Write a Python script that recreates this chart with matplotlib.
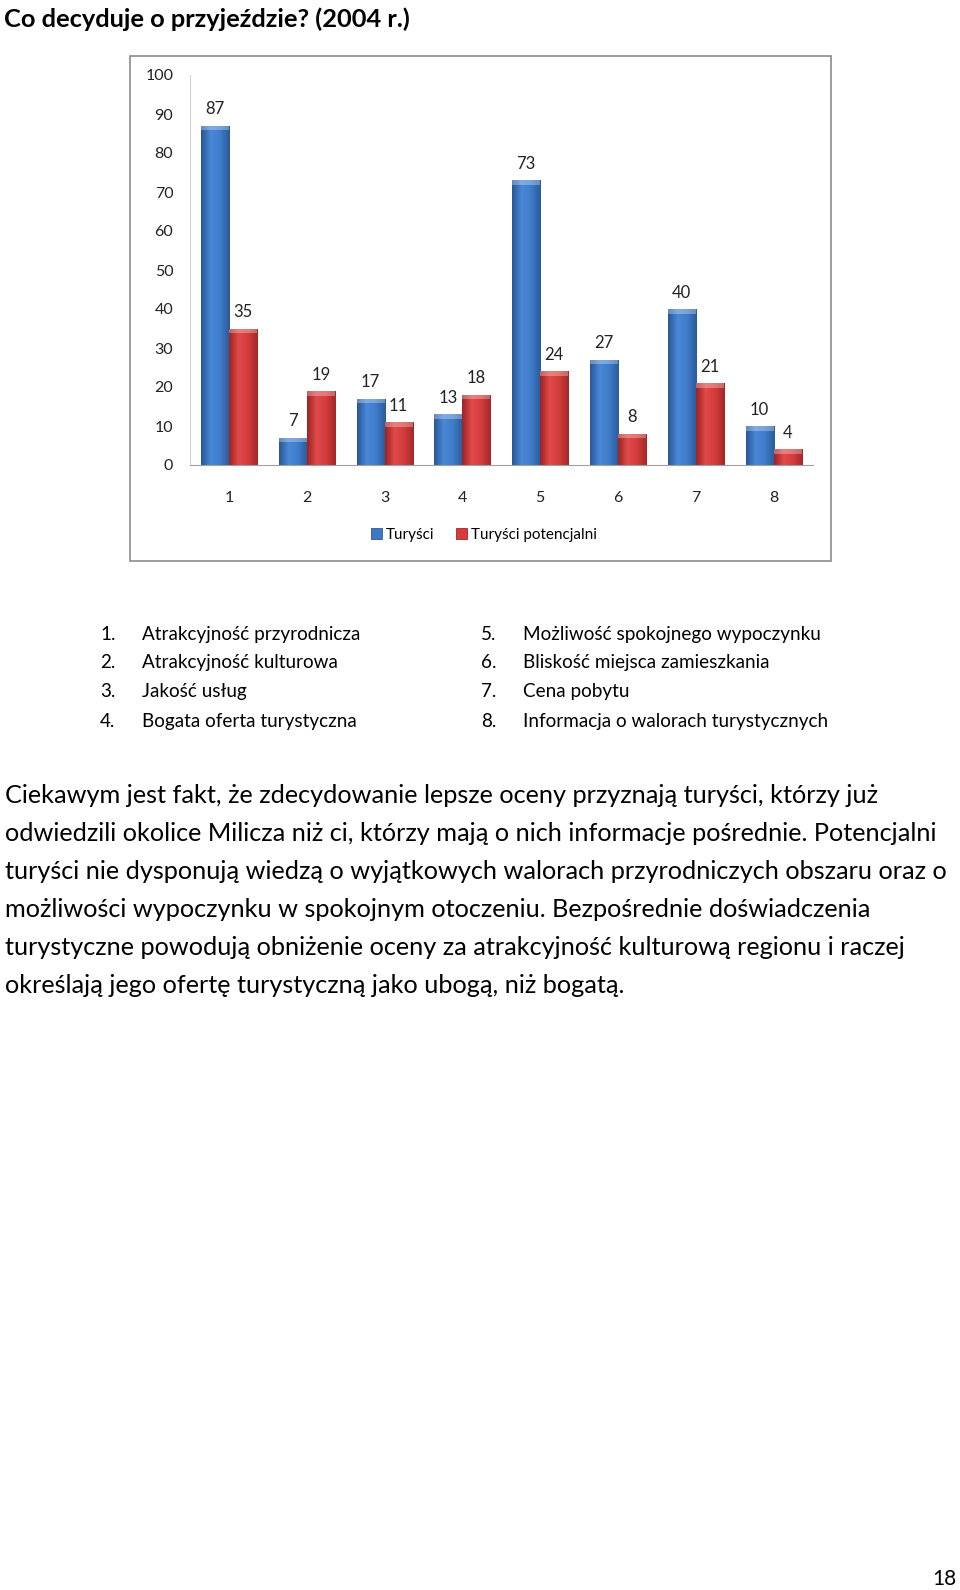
import numpy as np
import matplotlib.pyplot as plt
from matplotlib.colors import LinearSegmentedColormap
from matplotlib.patches import Rectangle

# Dane
kategorie = [1, 2, 3, 4, 5, 6, 7, 8]
turysci = [87, 7, 17, 13, 73, 27, 40, 10]
potencjalni = [35, 19, 11, 18, 24, 8, 21, 4]
seria_nazwy = ['Turyści', 'Turyści potencjalni']

tytul = 'Co decyduje o przyjeździe? (2004 r.)'
lista_lewa = ['Atrakcyjność przyrodnicza', 'Atrakcyjność kulturowa',
              'Jakość usług', 'Bogata oferta turystyczna']
lista_prawa = ['Możliwość spokojnego wypoczynku', 'Bliskość miejsca zamieszkania',
               'Cena pobytu', 'Informacja o walorach turystycznych']
akapit = [
    'Ciekawym jest fakt, że zdecydowanie lepsze oceny przyznają turyści, którzy już',
    'odwiedzili okolice Milicza niż ci, którzy mają o nich informacje pośrednie. Potencjalni',
    'turyści nie dysponują wiedzą o wyjątkowych walorach przyrodniczych obszaru oraz o',
    'możliwości wypoczynku w spokojnym otoczeniu. Bezpośrednie doświadczenia',
    'turystyczne powodują obniżenie oceny za atrakcyjność kulturową regionu i raczej',
    'określają jego ofertę turystyczną jako ubogą, niż bogatą.',
]
numer_strony = '18'

FONT = ['Lato', 'DejaVu Sans']
plt.rcParams['font.family'] = FONT

W, H = 960, 1590
fig = plt.figure(figsize=(W / 100, H / 100), dpi=100)


def fx(px):
    return px / W


def fy(py):
    return 1 - py / H


# tytuł
fig.text(fx(4), fy(27), tytul, fontsize=18.3, fontweight='bold', va='baseline', ha='left')

# ramka wykresu
fig.patches.append(Rectangle((fx(130), fy(561)), fx(831) - fx(130), fy(56) - fy(561),
                             transform=fig.transFigure, fill=False,
                             edgecolor='#8c8c8c', linewidth=1.2))

ax = fig.add_axes([fx(190), fy(465), fx(812.5) - fx(190), fy(75) - fy(465)])
x = np.arange(len(kategorie)) + 1
w = 0.36
b1 = ax.bar(x - w / 2, turysci, w, color='#3c78c6', edgecolor='#2b5a98', linewidth=0.6,
            label=seria_nazwy[0])
b2 = ax.bar(x + w / 2, potencjalni, w, color='#d83b3b', edgecolor='#a02828', linewidth=0.6,
            label=seria_nazwy[1])

# gradient na słupkach
cm_b = LinearSegmentedColormap.from_list('b', ['#285796', '#4a88d8', '#3f7cc9', '#2a5a9a'])
cm_r = LinearSegmentedColormap.from_list('r', ['#9e2424', '#e04a4a', '#d43c3c', '#a32828'])
grad = np.linspace(0, 1, 64).reshape(1, -1)
for bars, cm in ((b1, cm_b), (b2, cm_r)):
    for p in bars:
        x0, y0 = p.get_x(), p.get_y()
        bw, bh = p.get_width(), p.get_height()
        im = ax.imshow(grad, cmap=cm, extent=[x0, x0 + bw, y0, y0 + bh],
                       aspect='auto', zorder=2.1)
        im.set_clip_path(p)
        # jaśniejsza krawędź na górze
        ax.add_patch(Rectangle((x0, y0 + bh - 1.2), bw, 1.2, facecolor='white',
                               alpha=0.3, edgecolor='none', zorder=2.2))
    for p in bars:
        v = p.get_height()
        ax.annotate(str(int(v)), (p.get_x() + p.get_width() / 2, v),
                    xytext=(0, 6), textcoords='offset points',
                    ha='center', va='bottom', fontsize=12, color='#222222')

ax.set_xlim(0.5, 8.5)
ax.set_ylim(0, 100)
ax.set_yticks(range(0, 101, 10))
ax.set_xticks(x)
ax.set_xticklabels([str(k) for k in kategorie])
ax.tick_params(axis='both', length=0, labelsize=11.5, colors='#222222')
ax.tick_params(axis='x', pad=19)
ax.tick_params(axis='y', pad=12)
for s in ['top', 'right']:
    ax.spines[s].set_visible(False)
ax.spines['left'].set_color('#d0d0d0')
ax.spines['bottom'].set_color('#a0a0a0')
ax.set_facecolor('none')

fig.legend(handles=[b1, b2], loc='center', bbox_to_anchor=(fx(484), fy(535)), ncol=2,
           frameon=False, fontsize=11, handlelength=0.7, handleheight=0.7,
           handletextpad=0.3, columnspacing=1.4)

# lista
ys = [640, 668, 697, 727]
for i, (t1, t2) in enumerate(zip(lista_lewa, lista_prawa)):
    fig.text(fx(100), fy(ys[i]), f'{i + 1}.', fontsize=13.6, va='baseline')
    fig.text(fx(142), fy(ys[i]), t1, fontsize=13.6, va='baseline')
    fig.text(fx(481), fy(ys[i]), f'{i + 5}.', fontsize=13.6, va='baseline')
    fig.text(fx(523), fy(ys[i]), t2, fontsize=13.6, va='baseline')

# akapit
for i, linia in enumerate(akapit):
    fig.text(fx(5), fy(803 + i * 38), linia, fontsize=18.2, va='baseline')

fig.text(fx(956), fy(1585), numer_strony, fontsize=15, va='baseline', ha='right')

fig.savefig('out.png', dpi=100, facecolor='white')
